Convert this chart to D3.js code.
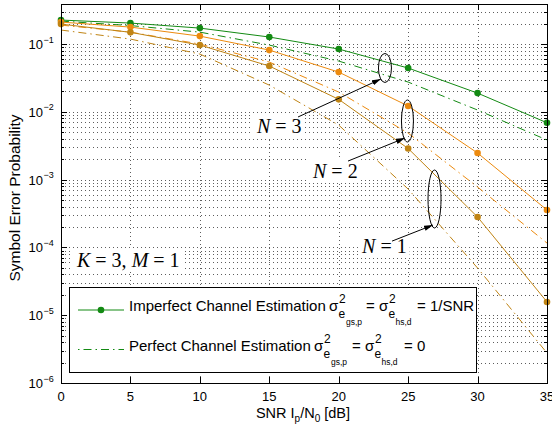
<!DOCTYPE html>
<html>
<head>
<meta charset="utf-8">
<script src="https://cdn.jsdelivr.net/npm/d3@7"></script>
<style>
body{margin:0;background:#fff;}
svg{display:block;font-family:"Liberation Sans",Arial,sans-serif;}
</style>
</head>
<body>
<div id="chart"></div>
<script>
// Symbol error probability vs SNR, K=3, M=1

const snr = [0,5,10,15,20,25,30,35];
const imperfectN1 = [0.197,0.149,0.0966,0.0474,0.0153,0.00288,0.000281,0.0000157];
const imperfectN2 = [0.211,0.178,0.131,0.0815,0.0386,0.0122,0.00247,0.000356];
const imperfectN3 = [0.226,0.204,0.172,0.127,0.0844,0.0443,0.0189,0.0069];
const perfectN1 = [0.161,0.1185,0.0712,0.0248,0.00638,0.000726,0.0000497,0.00000277];
const perfectN2 = [0.1905,0.150,0.100,0.0543,0.0196,0.00486,0.000778,0.000116];
const perfectN3 = [0.218,0.1875,0.150,0.0966,0.0561,0.0275,0.01064,0.00384];
const xTicks = [0,5,10,15,20,25,30,35];
const yTicks = [1e-6,1e-5,1e-4,1e-3,1e-2,1e-1];
const yTickExp = ['\u22126','\u22125','\u22124','\u22123','\u22122','\u22121'];

// annotations in data units: ellipse centre, arrow from/to, label spot
const annN = ['3','2','1'];
const annEllipse = [[23.33,0.0444],[24.95,0.00733],[26.9,0.000518]];
const annArrowFrom = [[17.07,0.0084],[20.67,0.00188],[23.84,0.000124]];
const annArrowTo = [[23.04,0.0305],[24.77,0.00411],[26.79,0.000214]];
const annLabel = [[14.11,0.00488],[18.15,0.00106],[21.68,0.0000828]];
const annEllipseR = [[6.5,14.5],[6,21],[6.5,29]];

const W = 552, H = 431;
const clrN3 = '#138a13', clrN2 = '#ec8a0e', clrN1 = '#c08414';

let svg = d3.select('#chart').append('svg')
    .attr('width',W).attr('height',H)
    .attr('viewBox','0 0 '+W+' '+H);

let x = d3.scaleLinear().domain([0,35]).range([61,547]);
let y = d3.scaleLog().domain([1e-6,0.39]).range([383,4]);

// grid values (major + minor decades)
let yGrid = [];
for(let e=-6;e<=-1;e++){
    for(let m=1;m<=9;m++){
        let v = m*Math.pow(10,e);
        if(v<=0.39) yGrid.push(v);
    }
}

let gGrid = svg.append('g')
    .attr('stroke','#333')
    .attr('stroke-width',0.8)
    .attr('stroke-dasharray','1,3');
gGrid.selectAll('line.h').data(yGrid).enter().append('line')
    .attr('class','h')
    .attr('x1',x(0)).attr('x2',x(35))
    .attr('y1',d=>Math.round(y(d))+0.5).attr('y2',d=>Math.round(y(d))+0.5);
gGrid.selectAll('line.v').data(xTicks.slice(1,-1)).enter().append('line')
    .attr('class','v')
    .attr('x1',d=>Math.round(x(d))+0.5).attr('x2',d=>Math.round(x(d))+0.5)
    .attr('y1',y.range()[1]).attr('y2',y.range()[0]);

// ticks
let gTick = svg.append('g').attr('stroke','#000').attr('stroke-width',1);
yGrid.forEach(v=>{
    let major = yTicks.indexOf(v)>=0;
    let len = major?6:3;
    let yy = Math.round(y(v))+0.5;
    gTick.append('line').attr('x1',x(0)).attr('x2',x(0)+len).attr('y1',yy).attr('y2',yy);
    gTick.append('line').attr('x1',x(35)).attr('x2',x(35)-len).attr('y1',yy).attr('y2',yy);
});
xTicks.slice(1,-1).forEach(v=>{
    let xx = Math.round(x(v))+0.5;
    gTick.append('line').attr('x1',xx).attr('x2',xx).attr('y1',y.range()[0]).attr('y2',y.range()[0]-6);
    gTick.append('line').attr('x1',xx).attr('x2',xx).attr('y1',y.range()[1]).attr('y2',y.range()[1]+6);
});

// tick labels
svg.append('g').selectAll('text').data(xTicks).enter().append('text')
    .attr('x',d=>x(d)).attr('y',401)
    .attr('text-anchor','middle')
    .attr('font-size',13)
    .text(d=>d);

let gYl = svg.append('g').attr('font-size',13);
yTicks.forEach((v,i)=>{
    gYl.append('text').attr('x',43).attr('y',y(v)+5).attr('text-anchor','end').text('10');
    gYl.append('text').attr('x',43.5).attr('y',y(v)-1.5).attr('font-size',9).text(yTickExp[i]);
});

// axis titles
let xt = svg.append('text').attr('x',303).attr('y',418).attr('text-anchor','middle').attr('font-size',14.5);
xt.append('tspan').text('SNR I');
xt.append('tspan').attr('font-size',10).attr('dy',4).text('p');
xt.append('tspan').attr('dy',-4).text('/N');
xt.append('tspan').attr('font-size',10).attr('dy',4).text('0');
xt.append('tspan').attr('dy',-4).text(' [dB]');

svg.append('text')
    .attr('transform','translate(20,198) rotate(-90)')
    .attr('text-anchor','middle')
    .attr('font-size',15.5)
    .text('Symbol Error Probability');

// curves
let series = [
    {imp:imperfectN3, per:perfectN3, color:clrN3},
    {imp:imperfectN2, per:perfectN2, color:clrN2},
    {imp:imperfectN1, per:perfectN1, color:clrN1}
];
let line = d3.line().x((d,i)=>x(snr[i])).y(d=>y(d));
let gCurve = svg.append('g').attr('fill','none');
series.forEach(s=>{
    gCurve.append('path').attr('d',line(s.per))
        .attr('stroke',s.color).attr('stroke-width',1)
        .attr('stroke-dasharray','8,4,1.5,4');
    gCurve.append('path').attr('d',line(s.imp))
        .attr('stroke',s.color).attr('stroke-width',1);
    svg.append('g').selectAll('circle').data(s.imp).enter().append('circle')
        .attr('cx',(d,i)=>x(snr[i])).attr('cy',d=>y(d))
        .attr('r',3.3).attr('fill',s.color);
});

// axes box
svg.append('rect')
    .attr('x',x(0)+0.5).attr('y',y.range()[1]+0.5)
    .attr('width',x(35)-x(0)).attr('height',y.range()[0]-y.range()[1])
    .attr('fill','none').attr('stroke','#000').attr('stroke-width',1);

// annotations
svg.append('defs').append('marker')
    .attr('id','arr').attr('viewBox','0 0 10 6')
    .attr('refX',10).attr('refY',3)
    .attr('markerWidth',9).attr('markerHeight',6)
    .attr('markerUnits','userSpaceOnUse')
    .attr('orient','auto')
    .append('path').attr('d','M0,0L10,3L0,6Z').attr('fill','#000');

function mathLabel(g,px,py,parts){
    let t = g.append('text').attr('x',px).attr('y',py)
        .attr('font-family','"Liberation Serif","DejaVu Serif",serif')
        .attr('font-size',20);
    parts.forEach(p=>{
        t.append('tspan').attr('font-style',p[1]?'italic':'normal').text(p[0]);
    });
    let bb = t.node().getBBox();
    g.insert('rect','text')
        .attr('x',bb.x-3).attr('y',bb.y-1)
        .attr('width',bb.width+6).attr('height',bb.height+2)
        .attr('fill','#fff');
    return t;
}

let gAnn = svg.append('g');
annN.forEach((n,i)=>{
    let g = gAnn.append('g');
    mathLabel(g,x(annLabel[i][0]),y(annLabel[i][1]),[['N',true],[' = '+n,false]]);
    gAnn.append('ellipse')
        .attr('cx',x(annEllipse[i][0])).attr('cy',y(annEllipse[i][1]))
        .attr('rx',annEllipseR[i][0]).attr('ry',annEllipseR[i][1])
        .attr('fill','none').attr('stroke','#000').attr('stroke-width',1);
    gAnn.append('line')
        .attr('x1',x(annArrowFrom[i][0])).attr('y1',y(annArrowFrom[i][1]))
        .attr('x2',x(annArrowTo[i][0])).attr('y2',y(annArrowTo[i][1]))
        .attr('stroke','#000').attr('stroke-width',1)
        .attr('marker-end','url(#arr)');
});
mathLabel(gAnn.append('g'),77,267,[['K',true],[' = 3, ',false],['M',true],[' = 1',false]]);

// legend
let gLeg = svg.append('g');
gLeg.append('rect').attr('x',69.5).attr('y',287.5).attr('width',407).attr('height',85)
    .attr('fill','#fff').attr('stroke','#000').attr('stroke-width',1);
gLeg.append('line').attr('x1',78).attr('x2',124).attr('y1',310).attr('y2',310)
    .attr('stroke',clrN3).attr('stroke-width',1);
gLeg.append('circle').attr('cx',101).attr('cy',310).attr('r',3.3).attr('fill',clrN3);
gLeg.append('line').attr('x1',78).attr('x2',124).attr('y1',349.5).attr('y2',349.5)
    .attr('stroke',clrN3).attr('stroke-width',1).attr('stroke-dasharray','1.5,4,8,4');

function legText(px,py,str,size){
    gLeg.append('text').attr('x',px).attr('y',py).attr('font-size',size).text(str);
}
// entry 1
legText(129,311,'Imperfect Channel Estimation',15);
legText(329,311,'\u03c3',15);
legText(339,303,'2',12);
legText(338.5,318,'e',12);
legText(346,324.5,'gs,p',8.5);
legText(366,311,'= \u03c3',15);
legText(389,303,'2',12);
legText(388.5,318,'e',12);
legText(395.5,324.5,'hs,d',8.5);
legText(417,311,'= 1/SNR',15);
// entry 2
legText(129,351,'Perfect Channel Estimation',15);
legText(314,351,'\u03c3',15);
legText(324,343,'2',12);
legText(323.5,358,'e',12);
legText(331,364.5,'gs,p',8.5);
legText(352,351,'= \u03c3',15);
legText(375,343,'2',12);
legText(374.5,358,'e',12);
legText(381.5,364.5,'hs,d',8.5);
legText(404,351,'= 0',15);
</script>
</body>
</html>
